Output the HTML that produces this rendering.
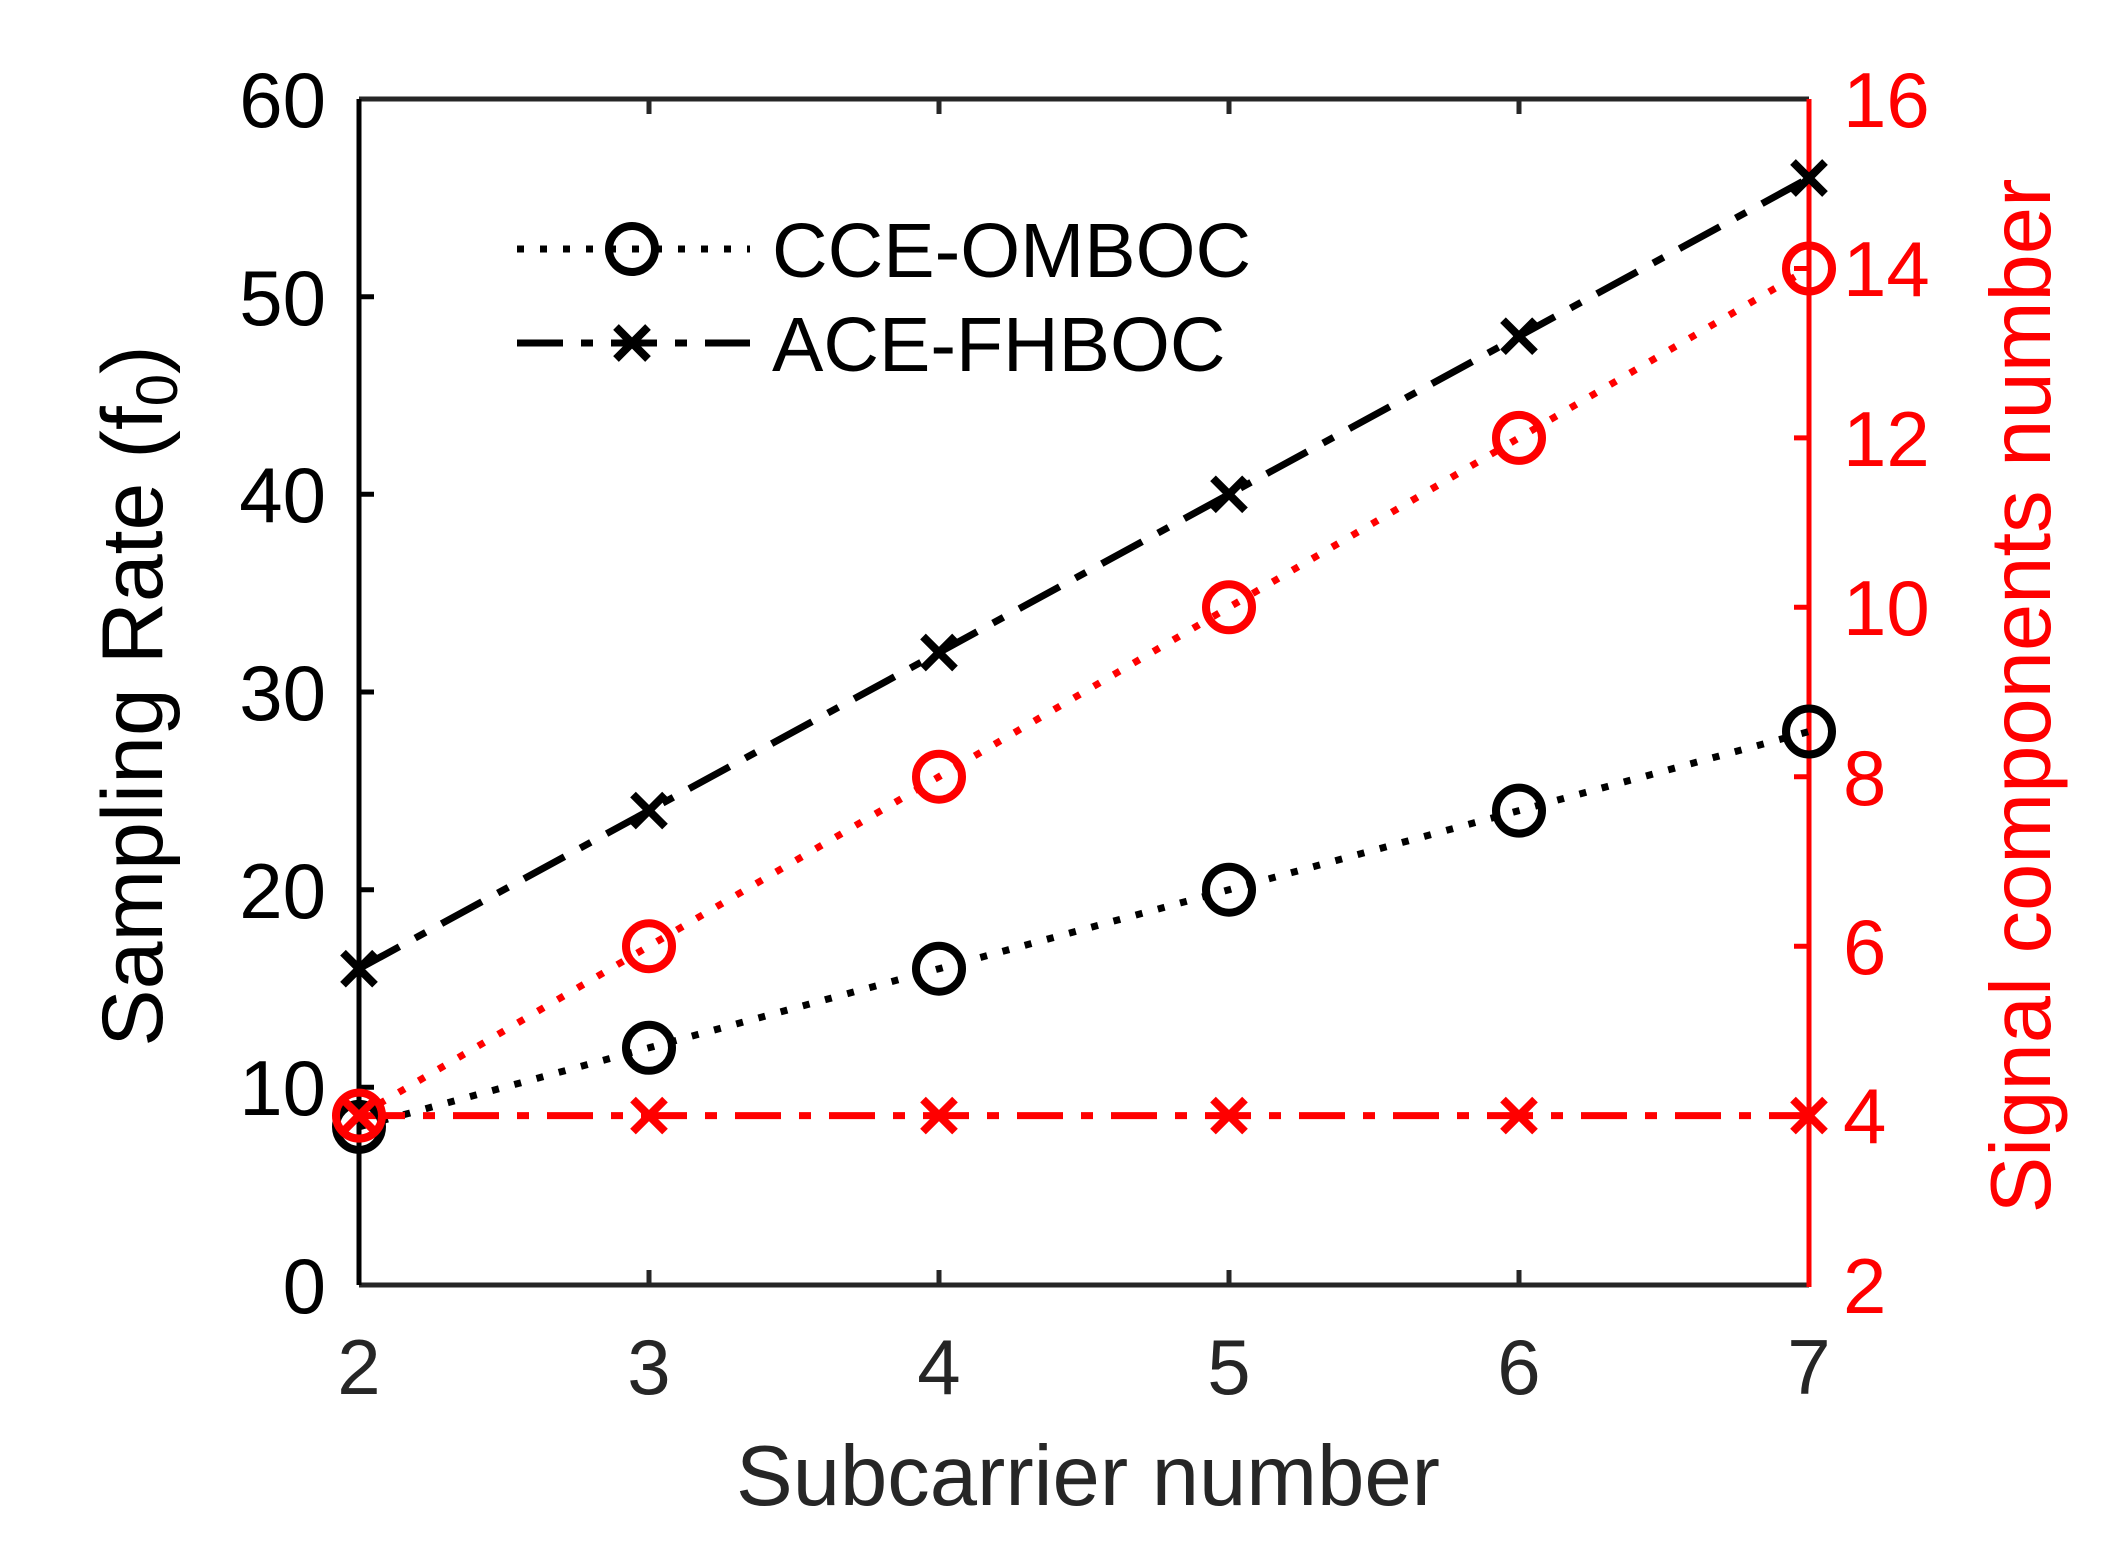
<!DOCTYPE html>
<html><head><style>body{margin:0;background:#fff}svg{display:block}</style></head><body>
<svg width="2108" height="1541" xmlns="http://www.w3.org/2000/svg" font-family="Liberation Sans, sans-serif">
<rect width="2108" height="1541" fill="#fff"/>
<g stroke="#262626" stroke-width="5" fill="none">
<line x1="359" y1="99" x2="1809" y2="99"/>
<line x1="359" y1="1285" x2="1809" y2="1285"/>
<line x1="359" y1="99" x2="359" y2="1285" stroke="#000"/>
<path d="M649 1285v-15M939 1285v-15M1229 1285v-15M1519 1285v-15M649 99v15M939 99v15M1229 99v15M1519 99v15"/>
<path stroke="#000" d="M359 1087.3h15M359 889.7h15M359 692h15M359 494.3h15M359 296.7h15"/>
</g>
<g stroke="#f00" stroke-width="5" fill="none">
<line x1="1809" y1="99" x2="1809" y2="1287"/>
<path d="M1809 1115.6h-15M1809 946.2h-15M1809 776.7h-15M1809 607.3h-15M1809 437.9h-15M1809 268.5h-15"/>
</g>
<g font-size="78" fill="#262626" text-anchor="middle">
<text x="359" y="1394">2</text><text x="649" y="1394">3</text><text x="939" y="1394">4</text>
<text x="1229" y="1394">5</text><text x="1519" y="1394">6</text><text x="1809" y="1394">7</text>
</g>
<g font-size="78" fill="#000" text-anchor="end">
<text x="326" y="1313">0</text><text x="326" y="1115">10</text><text x="326" y="918">20</text>
<text x="326" y="720">30</text><text x="326" y="522">40</text><text x="326" y="325">50</text><text x="326" y="127">60</text>
</g>
<g font-size="78" fill="#f00">
<text x="1843" y="1313">2</text><text x="1843" y="1143">4</text><text x="1843" y="974">6</text>
<text x="1843" y="805">8</text><text x="1843" y="635">10</text><text x="1843" y="466">12</text>
<text x="1843" y="296">14</text><text x="1843" y="127">16</text>
</g>
<text x="1088" y="1505" font-size="85" fill="#262626" text-anchor="middle">Subcarrier number</text>
<text transform="translate(162,696) rotate(-90)" font-size="86" fill="#000" text-anchor="middle">Sampling Rate (f<tspan font-size="58" dy="15">0</tspan><tspan dy="-15">)</tspan></text>
<text transform="translate(2050,696) rotate(-90)" font-size="85" fill="#f00" text-anchor="middle">Signal components number</text>
<g fill="none" stroke-width="7">
<polyline stroke="#000" stroke-dasharray="7 16" points="359,1126.9 649,1047.8 939,968.7 1229,889.7 1519,810.6 1809,731.5"/>
<polyline stroke="#000" stroke-dasharray="46 18 12 18" points="359,968.7 649,810.6 939,652.5 1229,494.3 1519,336.2 1809,178"/>
<polyline stroke="#f00" stroke-dasharray="7 16" points="359,1115.6 649,946.2 939,776.7 1229,607.3 1519,437.9 1809,268.5"/>
<polyline stroke="#f00" stroke-dasharray="46 18 12 18" points="359,1115.6 649,1115.6 939,1115.6 1229,1115.6 1519,1115.6 1809,1115.6"/>
<g stroke="#000" stroke-width="8">
<circle cx="359" cy="1126.9" r="23"/><circle cx="649" cy="1047.8" r="23"/><circle cx="939" cy="968.7" r="23"/>
<circle cx="1229" cy="889.7" r="23"/><circle cx="1519" cy="810.6" r="23"/><circle cx="1809" cy="731.5" r="23"/>
</g>
<g stroke="#f00" stroke-width="8">
<circle cx="359" cy="1115.6" r="23"/><circle cx="649" cy="946.2" r="23"/><circle cx="939" cy="776.7" r="23"/>
<circle cx="1229" cy="607.3" r="23"/><circle cx="1519" cy="437.9" r="23"/><circle cx="1809" cy="268.5" r="23"/>
</g>
<g stroke="#000" stroke-width="8">
<path d="M343 952.7l32 32M343 984.7l32-32M633 794.6l32 32M633 826.6l32-32M923 636.5l32 32M923 668.5l32-32M1213 478.3l32 32M1213 510.3l32-32M1503 320.2l32 32M1503 352.2l32-32M1793 162l32 32M1793 194l32-32"/>
</g>
<g stroke="#f00" stroke-width="8">
<path d="M343 1099.6l32 32M343 1131.6l32-32M633 1099.6l32 32M633 1131.6l32-32M923 1099.6l32 32M923 1131.6l32-32M1213 1099.6l32 32M1213 1131.6l32-32M1503 1099.6l32 32M1503 1131.6l32-32M1793 1099.6l32 32M1793 1131.6l32-32"/>
</g>
<line x1="517" y1="249" x2="750" y2="249" stroke="#000" stroke-dasharray="7 16"/>
<circle cx="632" cy="249" r="23" stroke="#000" stroke-width="8"/>
<line x1="517" y1="343" x2="750" y2="343" stroke="#000" stroke-dasharray="46 18 12 18"/>
<path d="M616 327l32 32M616 359l32-32" stroke="#000" stroke-width="8"/>
</g>
<g font-size="77" fill="#000">
<text x="772" y="277">CCE-OMBOC</text>
<text x="772" y="371">ACE-FHBOC</text>
</g>
</svg>
</body></html>
